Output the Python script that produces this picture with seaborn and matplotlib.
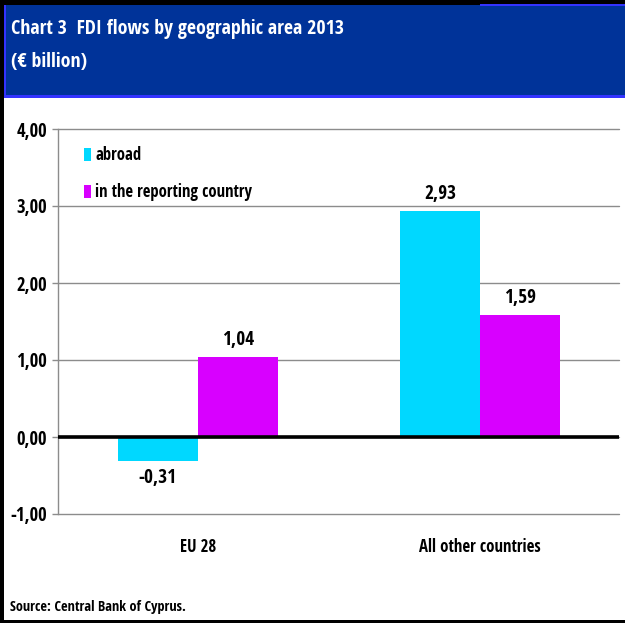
import matplotlib
matplotlib.use("Agg")
import matplotlib.pyplot as plt
from matplotlib.patches import Rectangle
import seaborn as sns
import pandas as pd

# FDI flows by geographic area, 2013 (EUR billion)
areas = ["EU 28", "All other countries"]
flows = ["abroad", "in the reporting country"]
abroad = [-0.31, 2.93]
in_reporting = [1.04, 1.59]
y_ticks = [-1.0, 0.0, 1.0, 2.0, 3.0, 4.0]
title_lines = ["Chart 3  FDI flows by geographic area 2013", "(€ billion)"]
source_text = "Source: Central Bank of Cyprus."

colors = {"abroad": "#00D8FF", "in the reporting country": "#D800FF"}

df = pd.DataFrame({
    "area": areas * 2,
    "flow": [flows[0]] * len(areas) + [flows[1]] * len(areas),
    "value": abroad + in_reporting,
})


def fmt(v):
    return f"{v:.2f}".replace(".", ",")


sns.set_theme(style="white")
plt.rcParams["font.family"] = ["Open Sans Condensed", "PT Sans Narrow", "DejaVu Sans"]
plt.rcParams["font.weight"] = "bold"
plt.rcParams["text.color"] = "black"
plt.rcParams["xtick.color"] = "black"
plt.rcParams["ytick.color"] = "black"

fig = plt.figure(figsize=(6.25, 6.23), dpi=100)
W, H = 625, 623
renderer = fig.canvas.get_renderer()


def size_for(s, width_px, base=12.0):
    """Font size (pt) at which string s spans width_px pixels."""
    t = fig.text(0, 0, s, fontsize=base, fontweight="bold")
    w = t.get_window_extent(renderer).width
    t.remove()
    return base * width_px / w


def fig_rect(x0, y0, w, h, color, z):
    """Rectangle in pixel units measured from the top-left corner."""
    fig.patches.append(Rectangle((x0 / W, 1 - (y0 + h) / H), w / W, h / H,
                                 transform=fig.transFigure, facecolor=color,
                                 edgecolor="none", zorder=z))


fs_title = size_for(title_lines[0], 333)
fs_tick = size_for("4,00", 31)
fs_value = size_for("2,93", 32)
fs_legend = size_for(flows[1], 157)
fs_cat = size_for(areas[1], 121)
fs_source = size_for(source_text, 176)

# outer frame
fig_rect(0, 0, W, 4.5, "black", 1)
fig_rect(0, 0, 4, H, "black", 1)
fig_rect(0, H - 3, W, 3, "black", 1)

# title banner
fig_rect(4, 5, W - 4, 93, "#003399", 2)
fig_rect(4, 95, W - 4, 3, "#3333FF", 3)
fig_rect(4, 5, 2, 93, "#3333FF", 3)
fig_rect(480, 4, W - 480, 2, "#3333FF", 3)
fig.text(11 / W, 1 - 29 / H, title_lines[0], color="white", fontsize=fs_title,
         fontweight="bold", va="center", ha="left")
fig.text(11 / W, 1 - 62 / H, title_lines[1], color="white", fontsize=fs_title,
         fontweight="bold", va="center", ha="left")

# plot area
ax = fig.add_axes([58 / W, 1 - 514 / H, (619 - 58) / W, (514 - 129) / H])
sns.barplot(data=df, x="area", y="value", hue="flow", order=areas, hue_order=flows,
            palette=colors, width=0.567, gap=0, saturation=1, errorbar=None,
            edgecolor="none", linewidth=0, ax=ax, zorder=3)

ax.set_ylim(-1.0, 4.0)
ax.set_xlim(-0.496, 1.493)
ax.set_yticks(y_ticks)
ax.set_yticklabels([fmt(v) for v in y_ticks])
ax.yaxis.grid(True, color="#8C8C8C", linewidth=1.0, zorder=0)
for gl in ax.get_ygridlines():
    gl.set_clip_on(False)
ax.set_axisbelow(True)
ax.axhline(0, color="black", linewidth=2.6, zorder=4)

for s in ["top", "right", "bottom"]:
    ax.spines[s].set_visible(False)
ax.spines["left"].set_color("#8C8C8C")
ax.spines["left"].set_linewidth(1.0)
ax.tick_params(axis="y", which="major", length=4, width=1, color="#8C8C8C",
               left=True, labelsize=fs_tick, pad=4, labelcolor="black")
ax.tick_params(axis="x", length=0, labelsize=fs_cat, pad=17, labelcolor="black")
for lbl in ax.get_yticklabels() + ax.get_xticklabels():
    lbl.set_fontweight("bold")
ax.set_xlabel("")
ax.set_ylabel("")

# value labels on each bar
for cont in ax.containers:
    ax.bar_label(cont, labels=[fmt(b.get_height()) for b in cont], padding=5,
                 fontsize=fs_value, fontweight="bold")

# legend
leg = ax.legend(loc="upper left", bbox_to_anchor=(0.02, 0.995), frameon=False,
                fontsize=fs_legend, handlelength=0.4, handleheight=0.8,
                handletextpad=0.25, labelspacing=1.15)
for t in leg.get_texts():
    t.set_fontweight("bold")

fig.text(10 / W, 1 - 607 / H, source_text, fontsize=fs_source, fontweight="bold",
         va="center", ha="left")

fig.savefig("out.png", dpi=100)
